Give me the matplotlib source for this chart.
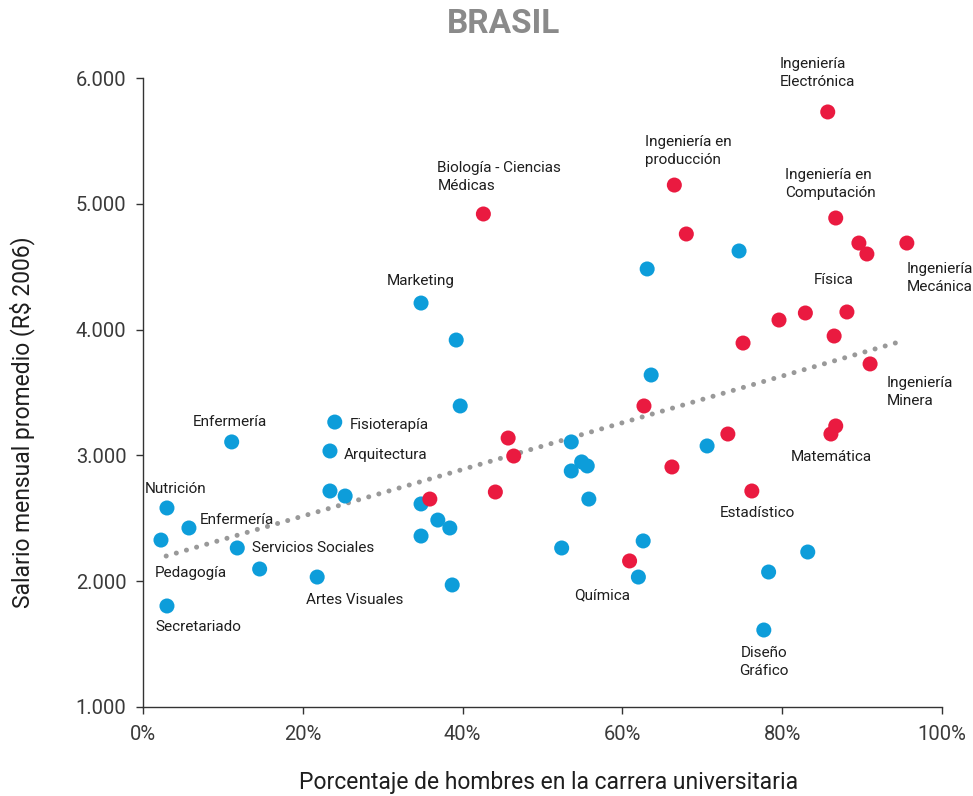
import matplotlib
matplotlib.use("Agg")
import matplotlib.pyplot as plt
from matplotlib.ticker import FuncFormatter

plt.rcParams['font.family'] = ['Roboto', 'DejaVu Sans']

# Carreras con mayoría femenina / masculina (pct hombres, salario R$ 2006)
blue_x = [3.0, 2.25, 5.75, 11.1, 11.8, 14.6, 3.0, 21.8, 24.0, 23.4, 23.4, 25.3,
          34.8, 39.2, 39.7, 34.8, 36.9, 38.4, 34.8, 38.7, 53.6, 53.6, 54.9, 55.6,
          55.8, 52.4, 63.1, 63.6, 62.6, 62.0, 74.6, 70.6, 78.3, 83.2, 77.7]
blue_y = [2582, 2327, 2423, 3107, 2264, 2097, 1803, 2033, 3265, 3035, 2717, 2677,
          4211, 3917, 3393, 2614, 2486, 2423, 2359, 1970, 3107, 2876, 2948, 2916,
          2653, 2264, 4482, 3639, 2320, 2033, 4625, 3075, 2073, 2232, 1612]
blue_labels = ['Nutrición', 'Pedagogía', 'Enfermería', 'Enfermería', 'Servicios Sociales',
               '', 'Secretariado', 'Artes Visuales', 'Fisioterapía', 'Arquitectura', '', '',
               'Marketing', '', '', '', '', '', '', '', '', '', '', '',
               '', '', '', '', '', '', '', '', '', '', 'Diseño\nGráfico']

red_x = [42.6, 66.5, 68.0, 85.7, 86.7, 89.6, 90.6, 95.6, 79.6, 82.9, 88.1, 86.5, 75.1,
         91.0, 62.7, 73.2, 66.2, 76.2, 86.7, 86.1, 45.7, 46.4, 44.1, 35.9, 60.9]
red_y = [4919, 5149, 4760, 5730, 4887, 4688, 4601, 4688, 4076, 4132, 4140, 3949, 3893,
         3727, 3393, 3170, 2908, 2717, 3234, 3170, 3138, 2995, 2709, 2653, 2161]
red_labels = ['Biología - Ciencias\nMédicas', 'Ingeniería en\nproducción', '',
              'Ingeniería\nElectrónica', 'Ingeniería en\nComputación', '', '',
              'Ingeniería\nMecánica', '', '', 'Física', '', '', 'Ingeniería\nMinera',
              '', '', '', 'Estadístico', '', 'Matemática', '', '', '', '', 'Química']

trend_x = [2.9, 95.0]
trend_y = [2200, 3909]

# label placement: (dx px, dy px, ha)
offsets = {
    'Nutrición': (-22, 19, 'left'),
    'Pedagogía': (-6, -33, 'left'),
    'Secretariado': (-12, -21, 'left'),
    'Servicios Sociales': (15, 0, 'left'),
    'Artes Visuales': (-11, -23, 'left'),
    'Fisioterapía': (15, -3, 'left'),
    'Arquitectura': (14, -4, 'left'),
    'Marketing': (0, 22, 'center'),
    'Diseño\nGráfico': (0, -32, 'center'),
    'Biología - Ciencias\nMédicas': (-46, 37, 'left'),
    'Ingeniería en\nproducción': (-29, 34, 'left'),
    'Ingeniería\nElectrónica': (-48, 39, 'left'),
    'Ingeniería en\nComputación': (-51, 34, 'left'),
    'Ingeniería\nMecánica': (0, -35, 'left'),
    'Física': (-13, 32, 'center'),
    'Ingeniería\nMinera': (17, -28, 'left'),
    'Estadístico': (6, -22, 'center'),
    'Matemática': (0, -23, 'center'),
    'Química': (-27, -34, 'center'),
}
enf_offsets = [(11, 8, 'left'), (-2, 20, 'center')]

BLUE = '#0D9DDA'
RED = '#EA1A40'

fig = plt.figure(figsize=(9.73, 7.96), dpi=100)
ax = fig.add_axes([143 / 973, 1 - 707 / 796, (942 - 143) / 973, (707 - 78) / 796])

ax.plot(trend_x, trend_y, color='#999999', lw=3.6, linestyle=(0, (0.01, 2.1)),
        dash_capstyle='round', zorder=1)
ax.scatter(blue_x, blue_y, s=117, color=BLUE, edgecolors='none', zorder=2, clip_on=False)
ax.scatter(red_x, red_y, s=117, color=RED, edgecolors='none', zorder=3, clip_on=False)

enf_i = 0
for xs, ys, labs in [(blue_x, blue_y, blue_labels), (red_x, red_y, red_labels)]:
    for x, y, lab in zip(xs, ys, labs):
        if not lab:
            continue
        if lab == 'Enfermería':
            dx, dy, ha = enf_offsets[enf_i]
            enf_i += 1
        else:
            dx, dy, ha = offsets[lab]
        ax.annotate(lab, (x, y), xytext=(dx, dy), textcoords='offset pixels',
                    ha=ha, va='center', fontsize=11, color='#1e1e1e',
                    linespacing=1.3, annotation_clip=False)

ax.set_xlim(0, 100)
ax.set_ylim(1000, 6000)
ax.set_xticks([0, 20, 40, 60, 80, 100])
ax.set_yticks([1000, 2000, 3000, 4000, 5000, 6000])
ax.xaxis.set_major_formatter(FuncFormatter(lambda v, p: f'{int(v)}%'))
ax.yaxis.set_major_formatter(FuncFormatter(lambda v, p: f'{int(v):,}'.replace(',', '.')))
ax.tick_params(axis='both', labelsize=14.5, colors='#333333', labelcolor='#3a3a3a',
               length=5, width=1)
ax.tick_params(axis='y', pad=7)
ax.tick_params(axis='x', pad=8)
for s in ['top', 'right']:
    ax.spines[s].set_visible(False)
for s in ['left', 'bottom']:
    ax.spines[s].set_color('#333333')
    ax.spines[s].set_linewidth(1)

fig.text(503 / 973, 1 - 24 / 796, 'BRASIL', ha='center', va='center',
         fontsize=24, fontweight='bold', color='#8a8a8a')
fig.text(22 / 973, 1 - 422 / 796, 'Salario mensual promedio (R$ 2006)', rotation=90,
         ha='center', va='center', fontsize=16.5, color='#1e1e1e')
fig.text(549 / 973, 1 - 783 / 796, 'Porcentaje de hombres en la carrera universitaria',
         ha='center', va='center', fontsize=16.5, color='#1e1e1e')

fig.savefig('out.png', dpi=100)
